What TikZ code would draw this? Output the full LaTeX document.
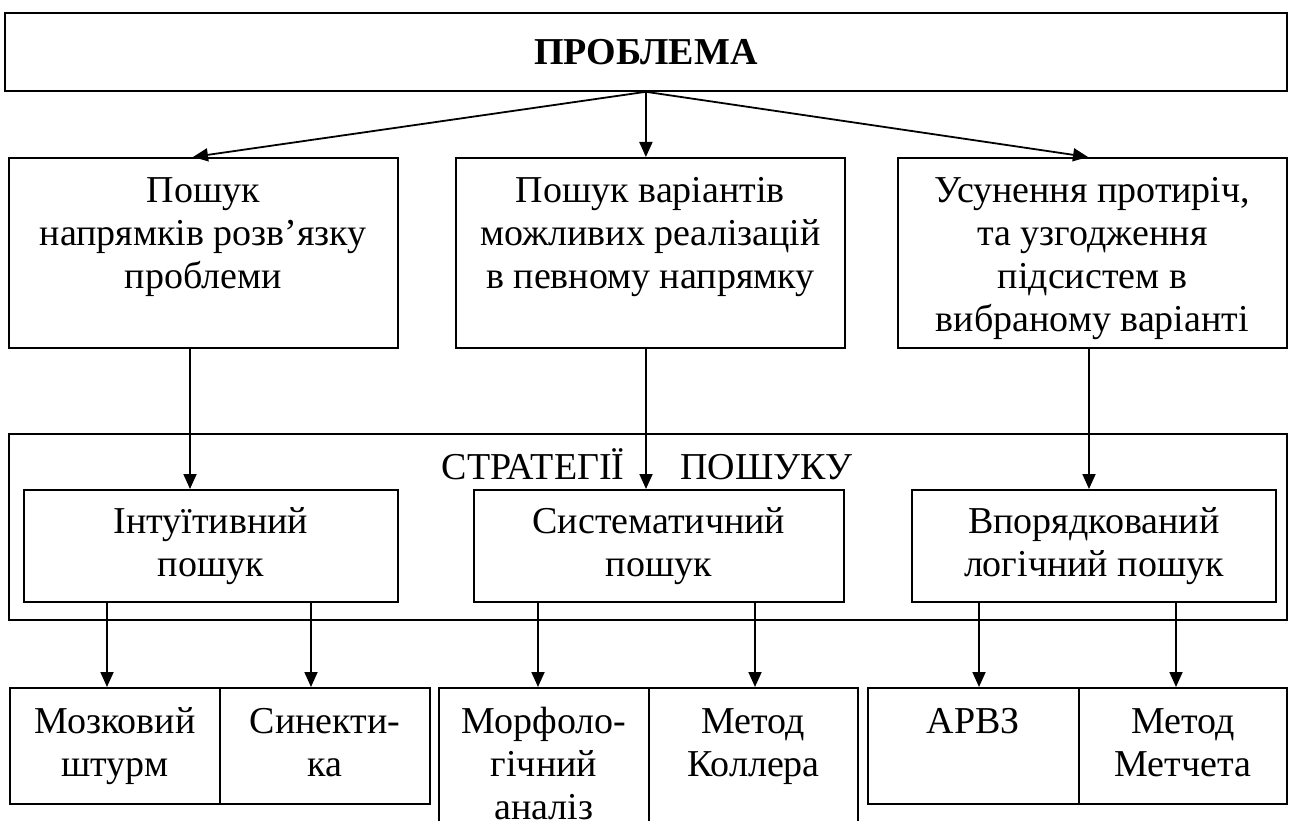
\documentclass[tikz,border=0pt]{standalone}
\usepackage{fontspec}
\setmainfont{Liberation Serif}
\usetikzlibrary{arrows.meta,positioning}

\begin{document}
\begin{tikzpicture}[x=1pt,y=-1pt,>={Triangle[length=15pt,width=13pt]},
  font=\fontsize{38}{43}\selectfont,
  b/.style={draw,line width=1.8pt,inner sep=0pt,anchor=north west},
  t/.style={align=center,inner sep=0pt,anchor=north},
  a/.style={->,line width=1.8pt}]
\clip (0,0) rectangle (1290,821);
% problem
\node[b,minimum width=1282pt,minimum height=78pt] (p) at (4,12) {};
\node[font=\fontsize{38}{43}\selectfont\bfseries] (pt) at (p) {ПРОБЛЕМА};
% directions
\node[b,minimum width=389pt,minimum height=190pt] (s1) at (8,157) {};
\node[b,minimum width=389pt,minimum height=190pt] (s2) at (455,157) {};
\node[b,minimum width=389pt,minimum height=190pt] (s3) at (897,157) {};
\node[t] (st1) at ([yshift=-15pt]s1.north) {\strut Пошук\\напрямків розв’язку\\проблеми};
\node[t] (st2) at ([yshift=-15pt]s2.north) {\strut Пошук варіантів\\можливих реалізацій\\в певному напрямку};
\node[t] (st3) at ([yshift=-15pt]s3.north) {\strut Усунення протиріч,\\та узгодження\\підсистем в\\вибраному варіанті};
\draw[a] (p.south) -- (s1.north -| 193,0);
\draw[a] (p.south) -- (s2.north -| p.south);
\draw[a] (p.south) -- (s3.north -| 1088,0);
% strategies
\node[b,minimum width=1278pt,minimum height=186pt] (s) at (8,433) {};
\node[anchor=base,inner sep=0pt] (lab) at (647,479) {СТРАТЕГІЇ\hspace{56pt}ПОШУКУ};
\node[b,minimum width=374pt,minimum height=112pt] (i1) at (23,489) {};
\node[b,minimum width=370pt,minimum height=112pt] (i2) at (473,489) {};
\node[b,minimum width=364pt,minimum height=112pt] (i3) at (911,489) {};
\node[t] (it1) at ([yshift=-14pt]i1.north) {\strut Інтуїтивний\\пошук};
\node[t] (it2) at ([yshift=-14pt]i2.north) {\strut Систематичний\\пошук};
\node[t] (it3) at ([yshift=-14pt]i3.north) {\strut Впорядкований\\логічний пошук};
\draw[a] (s1.south -| 190,0) -- (i1.north -| 190,0);
\draw[a] (s2.south -| 646,0) -- (i2.north -| 646,0);
\draw[a] (s3.south -| 1089,0) -- (i3.north -| 1089,0);
% methods
\node[b,minimum width=210pt,minimum height=116pt] (c1) at (9,687) {};
\node[b,minimum width=210pt,minimum height=116pt] (c2) at (219,687) {};
\node[b,minimum width=210pt,minimum height=150pt] (c3) at (438,687) {};
\node[b,minimum width=209pt,minimum height=150pt] (c4) at (648,687) {};
\node[b,minimum width=211pt,minimum height=116pt] (c5) at (867,687) {};
\node[b,minimum width=208pt,minimum height=116pt] (c6) at (1078,687) {};
\node[t] (ct1) at ([yshift=-16pt]c1.north) {\strut Мозковий\\штурм};
\node[t] (ct2) at ([yshift=-16pt]c2.north) {\strut Синекти-\\ка};
\node[t] (ct3) at ([yshift=-16pt]c3.north) {\strut Морфоло-\\гічний\\аналіз};
\node[t] (ct4) at ([yshift=-16pt]c4.north) {\strut Метод\\Коллера};
\node[t] (ct5) at ([yshift=-16pt]c5.north) {\strut АРВЗ};
\node[t] (ct6) at ([yshift=-16pt]c6.north) {\strut Метод\\Метчета};
\draw[a] (i1.south -| 107,0) -- (c1.north -| 107,0);
\draw[a] (i1.south -| 311,0) -- (c2.north -| 311,0);
\draw[a] (i2.south -| 538,0) -- (c3.north -| 538,0);
\draw[a] (i2.south -| 755,0) -- (c4.north -| 755,0);
\draw[a] (i3.south -| 979,0) -- (c5.north -| 979,0);
\draw[a] (i3.south -| 1176,0) -- (c6.north -| 1176,0);
\end{tikzpicture}
\end{document}
